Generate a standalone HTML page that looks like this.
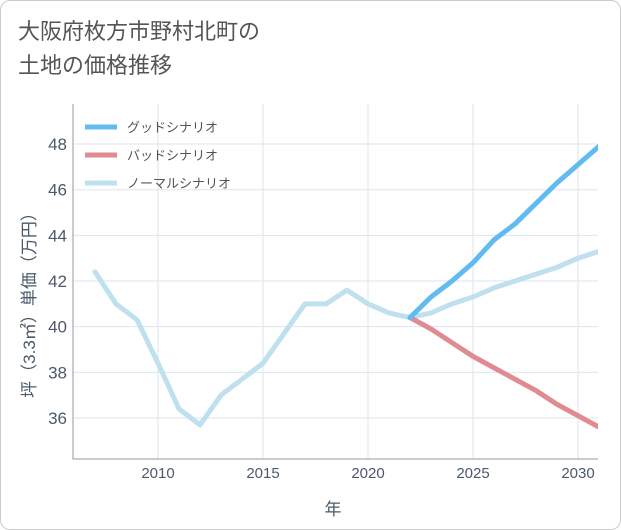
<!DOCTYPE html>
<html><head><meta charset="utf-8"><style>
body{margin:0;background:#fff;}
#card{position:absolute;left:0;top:0;width:619px;height:528px;border:1px solid #ccc;border-radius:10px;background:#fff;overflow:hidden;}
.t{font-family:"Liberation Sans","Noto Sans CJK JP",sans-serif;}
</style></head><body>
<div id="card">
<div class="t" style="position:absolute;left:17px;top:14px;font-size:22px;line-height:34px;color:#555;">大阪府枚方市野村北町の<br>土地の価格推移</div>
<svg id="chart" width="621" height="530" style="position:absolute;left:0;top:0"><defs><clipPath id="plotclip"><rect x="72" y="100" width="525" height="358"/></clipPath></defs></svg>
</div>
<script>
const years=[2007,2008,2009,2010,2011,2012,2013,2014,2015,2016,2017,2018,2019,2020,2021,2022,2023,2024,2025,2026,2027,2028,2029,2030,2031];
const normal=[42.4,41.0,40.3,38.4,36.4,35.7,37.0,37.7,38.4,39.7,41.0,41.0,41.6,41.0,40.6,40.4,40.6,41.0,41.3,41.7,42.0,42.3,42.6,43.0,43.3];
const goodYears=[2022,2023,2024,2025,2026,2027,2028,2029,2030,2031];
const good=[40.4,41.3,42.0,42.8,43.8,44.5,45.4,46.3,47.1,47.9];
const bad=[40.4,39.9,39.3,38.7,38.2,37.7,37.2,36.6,36.1,35.6];
const xTicks=[2010,2015,2020,2025,2030];
const yTicks=[36,38,40,42,44,46,48];
const NS="http://www.w3.org/2000/svg";
const svg=document.getElementById('chart');
const L=72,R=597,T=103,B=458;
const x=v=>157+(v-2010)*21;
const y=v=>417-(v-36)*22.83;
function el(tag,attrs,parent){const e=document.createElementNS(NS,tag);for(const k in attrs)e.setAttribute(k,attrs[k]);(parent||svg).appendChild(e);return e;}
for(const t of xTicks){
 const g=el('line',{x1:x(t),x2:x(t),y1:T,y2:B,stroke:'#dde6ee','stroke-width':1});
 
 
 const lb=el('text',{x:x(t),y:477,'text-anchor':'middle','font-size':15,fill:'#4a5a6a',class:'t'});
 lb.textContent=t;
 
 
}
for(const t of yTicks){
 const g=el('line',{x1:L,x2:R,y1:y(t),y2:y(t),stroke:'#dde6ee','stroke-width':1});
 
 
 const lb=el('text',{x:66,y:y(t)+6,'text-anchor':'end','font-size':17,fill:'#4a5a6a',class:'t'});
 lb.textContent=t;
 
 
}
const ax=el('path',{d:`M${L},${T}V${B}H${R}`,fill:'none',stroke:'#999','stroke-width':1});


const lg=el('g',{'clip-path':'url(#plotclip)'});


function line(xs,vs,color,name){
 const p=el('polyline',{points:xs.map((v,i)=>x(v)+','+y(vs[i])).join(' '),fill:'none',stroke:color,'stroke-width':5,'stroke-linejoin':'round','stroke-linecap':'round'},lg);
 
 
}
line(years,normal,'#bfe0ee','normal-line');
line(goodYears,bad,'#e08a92','bad-line');
line(goodYears,good,'#62bbf0','good-line');
const legend=[['グッドシナリオ','#62bbf0'],['バッドシナリオ','#e08a92'],['ノーマルシナリオ','#bfe0ee']];
legend.forEach((d,i)=>{
 const yy=126+i*28;
 const l=el('line',{x1:84,x2:116,y1:yy,y2:yy,stroke:d[1],'stroke-width':5});
 
 
 const t=el('text',{x:126,y:yy+5,'font-size':13,fill:'#555',class:'t'});
 t.textContent=d[0];
 
 
});
const xt=el('text',{x:332,y:514,'text-anchor':'middle','font-size':17,fill:'#4a5a6a',class:'t'});
xt.textContent='年';


const yt=el('text',{x:0,y:0,'text-anchor':'middle','font-size':17,fill:'#4a5a6a',class:'t',transform:'translate(34,300) rotate(-90)'});
yt.textContent='坪（3.3㎡）単価（万円）';


</script>
</body></html>
